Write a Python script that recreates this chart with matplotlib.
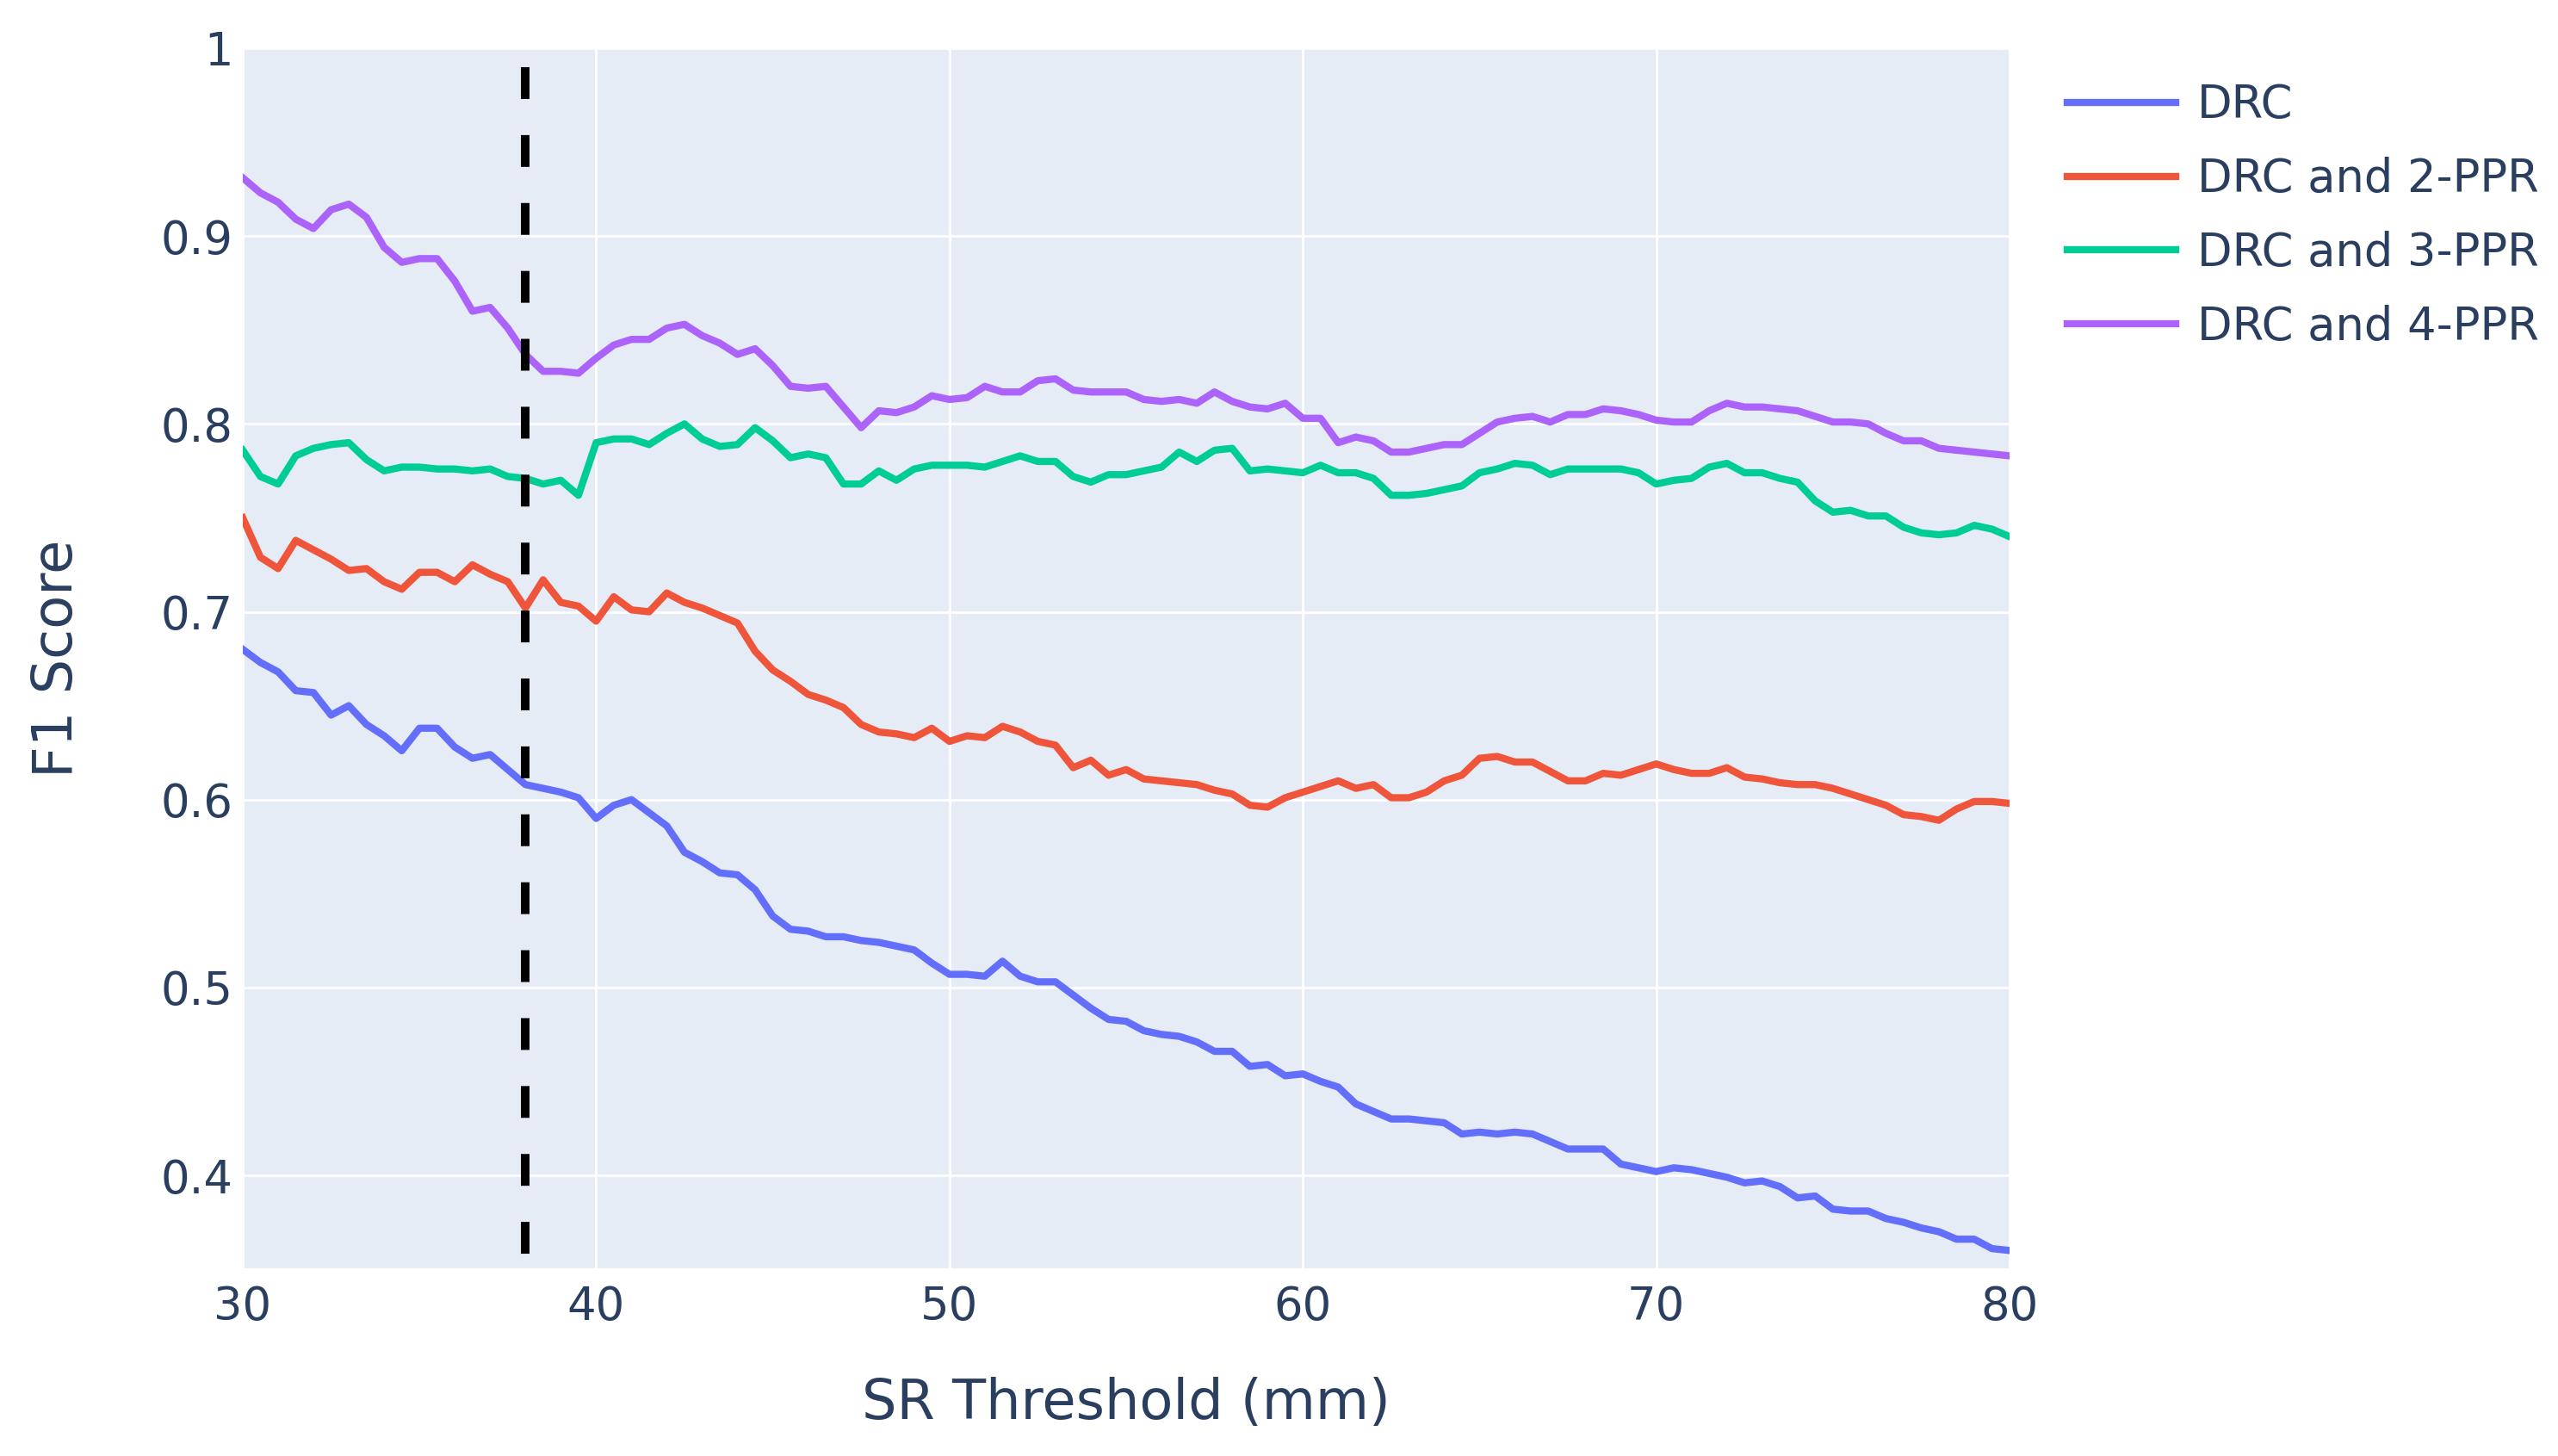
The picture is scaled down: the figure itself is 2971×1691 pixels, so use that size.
import matplotlib
matplotlib.use("Agg")
import matplotlib.pyplot as plt
import numpy as np

# SR threshold sweep, 0.5 mm steps
sr_threshold = np.arange(30, 80.01, 0.5)

f1_drc = [
    0.680, 0.673, 0.668, 0.658, 0.657, 0.645, 0.650, 0.640, 0.634, 0.626,
    0.638, 0.638, 0.628, 0.622, 0.624, 0.616, 0.608, 0.606, 0.604, 0.601,
    0.590, 0.597, 0.600, 0.593, 0.586, 0.572,
    0.567, 0.561, 0.560, 0.552, 0.538, 0.531, 0.530, 0.527, 0.527, 0.525,
    0.524, 0.522, 0.520, 0.513, 0.507, 0.507, 0.506, 0.514, 0.506, 0.503,
    0.503, 0.496, 0.489, 0.483, 0.482,
    0.477, 0.475, 0.474, 0.471, 0.466, 0.466, 0.458, 0.459, 0.453, 0.454,
    0.450, 0.447, 0.438, 0.434, 0.430, 0.430, 0.429, 0.428, 0.422, 0.423,
    0.422, 0.423, 0.422, 0.418, 0.414,
    0.414, 0.414, 0.406, 0.404, 0.402, 0.404, 0.403, 0.401, 0.399, 0.396,
    0.397, 0.394, 0.388, 0.389, 0.382, 0.381, 0.381, 0.377, 0.375, 0.372,
    0.370, 0.366, 0.366, 0.361, 0.360,
]
f1_drc_2ppr = [
    0.750, 0.729, 0.723, 0.738, 0.733, 0.728, 0.722, 0.723, 0.716, 0.712,
    0.721, 0.721, 0.716, 0.725, 0.720, 0.716, 0.702, 0.717, 0.705, 0.703,
    0.695, 0.708, 0.701, 0.700, 0.710, 0.705,
    0.702, 0.698, 0.694, 0.679, 0.669, 0.663, 0.656, 0.653, 0.649, 0.640,
    0.636, 0.635, 0.633, 0.638, 0.631, 0.634, 0.633, 0.639, 0.636, 0.631,
    0.629, 0.617, 0.621, 0.613, 0.616,
    0.611, 0.610, 0.609, 0.608, 0.605, 0.603, 0.597, 0.596, 0.601, 0.604,
    0.607, 0.610, 0.606, 0.608, 0.601, 0.601, 0.604, 0.610, 0.613, 0.622,
    0.623, 0.620, 0.620, 0.615, 0.610,
    0.610, 0.614, 0.613, 0.616, 0.619, 0.616, 0.614, 0.614, 0.617, 0.612,
    0.611, 0.609, 0.608, 0.608, 0.606, 0.603, 0.600, 0.597, 0.592, 0.591,
    0.589, 0.595, 0.599, 0.599, 0.598,
]
f1_drc_3ppr = [
    0.786, 0.772, 0.768, 0.783, 0.787, 0.789, 0.790, 0.781, 0.775, 0.777,
    0.777, 0.776, 0.776, 0.775, 0.776, 0.772, 0.771, 0.768, 0.770, 0.762,
    0.790, 0.792, 0.792, 0.789, 0.795, 0.800,
    0.792, 0.788, 0.789, 0.798, 0.791, 0.782, 0.784, 0.782, 0.768, 0.768,
    0.775, 0.770, 0.776, 0.778, 0.778, 0.778, 0.777, 0.780, 0.783, 0.780,
    0.780, 0.772, 0.769, 0.773, 0.773,
    0.775, 0.777, 0.785, 0.780, 0.786, 0.787, 0.775, 0.776, 0.775, 0.774,
    0.778, 0.774, 0.774, 0.771, 0.762, 0.762, 0.763, 0.765, 0.767, 0.774,
    0.776, 0.779, 0.778, 0.773, 0.776,
    0.776, 0.776, 0.776, 0.774, 0.768, 0.770, 0.771, 0.777, 0.779, 0.774,
    0.774, 0.771, 0.769, 0.759, 0.753, 0.754, 0.751, 0.751, 0.745, 0.742,
    0.741, 0.742, 0.746, 0.744, 0.740,
]
f1_drc_4ppr = [
    0.931, 0.923, 0.918, 0.909, 0.904, 0.914, 0.917, 0.910, 0.894, 0.886,
    0.888, 0.888, 0.876, 0.860, 0.862, 0.851, 0.837, 0.828, 0.828, 0.827,
    0.835, 0.842, 0.845, 0.845, 0.851, 0.853,
    0.847, 0.843, 0.837, 0.840, 0.831, 0.820, 0.819, 0.820, 0.809, 0.798,
    0.807, 0.806, 0.809, 0.815, 0.813, 0.814, 0.820, 0.817, 0.817, 0.823,
    0.824, 0.818, 0.817, 0.817, 0.817,
    0.813, 0.812, 0.813, 0.811, 0.817, 0.812, 0.809, 0.808, 0.811, 0.803,
    0.803, 0.790, 0.793, 0.791, 0.785, 0.785, 0.787, 0.789, 0.789, 0.795,
    0.801, 0.803, 0.804, 0.801, 0.805,
    0.805, 0.808, 0.807, 0.805, 0.802, 0.801, 0.801, 0.807, 0.811, 0.809,
    0.809, 0.808, 0.807, 0.804, 0.801, 0.801, 0.800, 0.795, 0.791, 0.791,
    0.787, 0.786, 0.785, 0.784, 0.783,
]

series_names = ["DRC", "DRC and 2-PPR", "DRC and 3-PPR", "DRC and 4-PPR"]
series_colors = ["#636EFA", "#EF553B", "#00CC96", "#AB63FA"]
chosen_threshold = 38

x_ticks = [30, 40, 50, 60, 70, 80]
y_ticks = [0.4, 0.5, 0.6, 0.7, 0.8, 0.9, 1.0]
y_ticklabels = ["0.4", "0.5", "0.6", "0.7", "0.8", "0.9", "1"]

text_col = "#2a3f5f"
plt.rcParams["font.family"] = ["DejaVu Sans"]
plt.rcParams["lines.scale_dashes"] = False

fig = plt.figure(figsize=(14.855, 8.455), dpi=200, facecolor="white")
ax = fig.add_axes([0.0949, 0.1289, 0.6907, 0.838])
ax.set_facecolor("#E5ECF6")

ax.grid(True, color="white", linewidth=1.0)
ax.set_axisbelow(True)
for sp in ax.spines.values():
    sp.set_visible(False)

for vals, name, col in zip([f1_drc, f1_drc_2ppr, f1_drc_3ppr, f1_drc_4ppr],
                           series_names, series_colors):
    ax.plot(sr_threshold, vals, color=col, linewidth=3.0, label=name,
            solid_joinstyle="round")

# Selected threshold marker
ax.plot([chosen_threshold, chosen_threshold], [0.99, 0.30], color="black",
        linewidth=3.6, dashes=(13.3, 15.1), zorder=5)

ax.set_xlim(30, 80)
ax.set_ylim(0.3505, 1.0)
ax.set_xticks(x_ticks)
ax.set_yticks(y_ticks)
ax.set_yticklabels(y_ticklabels)
ax.tick_params(length=0, labelsize=19, labelcolor=text_col)
ax.tick_params(axis="x", pad=7)
ax.tick_params(axis="y", pad=4)

ax.set_xlabel("SR Threshold (mm)", fontsize=23, color=text_col)
ax.xaxis.label.set_va("center")
ax.xaxis.set_label_coords(0.5, -0.111)
ax.set_ylabel("F1 Score", fontsize=23, color=text_col)
ax.yaxis.label.set_va("center")
ax.yaxis.set_label_coords(-0.105, 0.5)

leg = ax.legend(loc="upper left", bbox_to_anchor=(0.808, 0.943),
                bbox_transform=fig.transFigure, frameon=False, fontsize=19,
                handlelength=2.4, handletextpad=0.47, labelspacing=0.64,
                borderpad=0, borderaxespad=0)
for t in leg.get_texts():
    t.set_color(text_col)

fig.savefig("out.png", dpi=200, facecolor="white")
